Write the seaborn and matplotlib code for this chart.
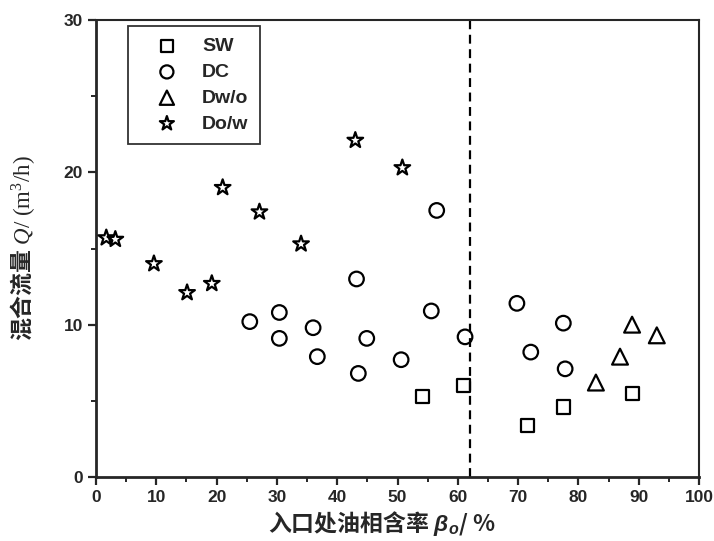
import matplotlib
matplotlib.use("Agg")
import numpy as np
import pandas as pd
import matplotlib.pyplot as plt
import seaborn as sns

# ---------------------------------------------------------------------------
# DATA
# ---------------------------------------------------------------------------
sw_x = [54.1, 60.9, 71.6, 77.5, 89.0]
sw_y = [5.3, 6.0, 3.4, 4.6, 5.5]

dc_x = [25.5, 30.4, 30.4, 36.0, 36.7, 43.2, 43.5, 44.9, 50.6, 55.6, 56.5,
        61.2, 69.8, 72.1, 77.5, 77.8]
dc_y = [10.2, 10.8, 9.1, 9.8, 7.9, 13.0, 6.8, 9.1, 7.7, 10.9, 17.5,
        9.2, 11.4, 8.2, 10.1, 7.1]

dwo_x = [82.9, 86.9, 88.9, 93.0]
dwo_y = [6.2, 7.9, 10.0, 9.3]

dow_x = [1.7, 3.2, 9.6, 15.1, 19.2, 21.0, 27.1, 34.0, 43.0, 50.8]
dow_y = [15.7, 15.6, 14.0, 12.1, 12.7, 19.0, 17.4, 15.3, 22.1, 20.3]

labels = ["SW", "DC", "Dw/o", "Do/w"]
markers = ["s", "o", "^", "*"]
sizes = [90, 110, 130, 140]
boundary = 62

# ---------------------------------------------------------------------------
# PLOT
# ---------------------------------------------------------------------------
sns.set_style("ticks")
plt.rcParams["font.family"] = ["Liberation Sans", "Noto Sans CJK SC", "DejaVu Sans"]
plt.rcParams["mathtext.fontset"] = "custom"
plt.rcParams["mathtext.rm"] = "Liberation Serif"
plt.rcParams["mathtext.it"] = "Liberation Serif:italic"
plt.rcParams["mathtext.sf"] = "Liberation Sans:italic:bold"

fig = plt.figure(figsize=(7.14, 5.41), dpi=100)
ax = fig.add_axes([0.1345, 0.1183, 0.8445, 0.8447])

series = [(sw_x, sw_y), (dc_x, dc_y), (dwo_x, dwo_y), (dow_x, dow_y)]
for (xs, ys), lab, mk, sz in zip(series, labels, markers, sizes):
    df = pd.DataFrame({"x": xs, "y": ys})
    sns.scatterplot(data=df, x="x", y="y", marker=mk, s=sz, ax=ax,
                    facecolor="none", edgecolor="black", linewidth=1.6,
                    label=lab, zorder=3)

ax.axvline(boundary, color="black", linestyle=(0, (4, 2.5)), linewidth=1.6)

ax.set_xlim(0, 100)
ax.set_ylim(0, 30)
ax.set_xticks(np.arange(0, 101, 10))
ax.set_yticks(np.arange(0, 31, 10))
ax.set_xticks(np.arange(5, 100, 10), minor=True)
ax.set_yticks(np.arange(5, 30, 10), minor=True)
ax.tick_params(which="major", direction="out", length=6, width=1.6,
               labelsize=12.5)
ax.tick_params(which="minor", direction="out", length=3.5, width=1.4)
for lbl in ax.get_xticklabels() + ax.get_yticklabels():
    lbl.set_fontweight("bold")

for side in ["left", "bottom"]:
    ax.spines[side].set_linewidth(2.0)
for side in ["top", "right"]:
    ax.spines[side].set_linewidth(1.5)

ax.set_xlabel(r"入口处油相含率 $\mathsf{\beta_o}$/ %", fontsize=16.5,
              fontweight="bold", family=["Noto Sans CJK SC", "DejaVu Sans"])
ax.set_ylabel(r"混合流量 $\mathit{Q}/\ (\mathrm{m}^3/\mathrm{h})$", fontsize=16.5,
              fontweight="bold", family=["Noto Sans CJK SC", "DejaVu Sans"])
ax.xaxis.set_label_coords(0.475, -0.07)
ax.yaxis.set_label_coords(-0.098, 0.5)

leg = ax.legend(loc="upper left", bbox_to_anchor=(0.053, 0.987), frameon=True,
                fancybox=False, edgecolor="black", fontsize=14,
                handletextpad=0.4, labelspacing=0.42, borderpad=0.6,
                handlelength=2.8, borderaxespad=0.0, markerscale=0.9)
leg.get_frame().set_linewidth(1.3)
for t in leg.get_texts():
    t.set_fontweight("bold")

fig.savefig("out.png", dpi=100)
